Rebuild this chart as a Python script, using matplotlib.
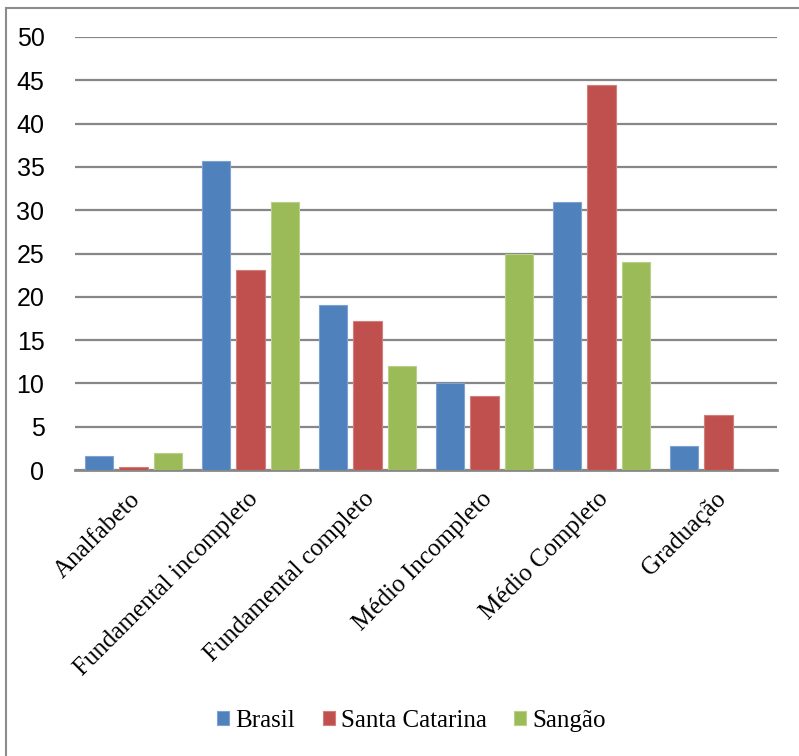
import matplotlib
matplotlib.use("Agg")
import matplotlib.pyplot as plt
from matplotlib.lines import Line2D
from matplotlib.font_manager import FontProperties
import matplotlib.transforms as mtransforms
import numpy as np

categories = ["Analfabeto", "Fundamental incompleto", "Fundamental completo",
              "Médio Incompleto", "Médio Completo", "Graduação"]
brasil = [1.6, 35.7, 19.0, 10.0, 30.9, 2.8]
santa_catarina = [0.4, 23.1, 17.2, 8.6, 44.4, 6.3]
sangao = [2.0, 31.0, 12.0, 25.0, 24.0, 0.0]
series_names = ["Brasil", "Santa Catarina", "Sangão"]
colors = ["#4F81BD", "#C0504D", "#9BBB59"]
edges = ["#7FA3D0", "#D27F7C", "#B8D08A"]
yticks = [0, 5, 10, 15, 20, 25, 30, 35, 40, 45, 50]

fig = plt.figure(figsize=(7.99, 7.56), dpi=100)
ax = fig.add_axes([75/799, 1-470/756, 702/799, 433/756])

x = np.arange(len(categories))
offsets = [-0.298, 0.0, 0.295]
width = 0.24
for vals, off, c, ec, name in zip([brasil, santa_catarina, sangao], offsets, colors, edges, series_names):
    ax.bar(x + off, vals, width, color=c, edgecolor=ec, linewidth=0.8, label=name, zorder=3)

ax.set_xlim(-0.5, len(categories) - 0.5)
ax.set_ylim(0, 50)
ax.set_yticks(yticks)
ax.set_yticklabels([str(t) for t in yticks], fontfamily="Liberation Sans", fontsize=18)
ax.tick_params(axis="y", length=0, pad=22)
ax.yaxis.grid(True, color="#878787", linewidth=1.6, zorder=0)
ax.set_axisbelow(True)
for s in ["top", "right", "left"]:
    ax.spines[s].set_visible(False)
ax.spines["bottom"].set_color("#878787")
ax.spines["bottom"].set_linewidth(2)
ax.set_xticks(x)
ax.set_xticklabels(categories, rotation=45, ha="right", va="top", rotation_mode="anchor",
                   fontfamily="Liberation Serif", fontsize=18)
ax.tick_params(axis="x", length=0, pad=13)
shift = mtransforms.ScaledTranslation(-4/100, 0, fig.dpi_scale_trans)
for lbl in ax.get_xticklabels():
    lbl.set_transform(lbl.get_transform() + shift)

# outer chart border
fig.add_artist(Line2D([5.5/799, 5.5/799], [0, 1-7.5/756], color="#8c8c8c", linewidth=1.5,
                      transform=fig.transFigure))
fig.add_artist(Line2D([5.5/799, 1], [1-7.5/756, 1-7.5/756], color="#8c8c8c", linewidth=1.5,
                      transform=fig.transFigure))

leg = fig.legend(loc="center", bbox_to_anchor=(0.515, 1-721/756), ncol=3, frameon=False,
                 prop=FontProperties(family=["Liberation Serif"], size=18),
                 handlelength=0.48, handleheight=0.48, handletextpad=0.25, columnspacing=1.1)

fig.savefig("out.png", dpi=100)
